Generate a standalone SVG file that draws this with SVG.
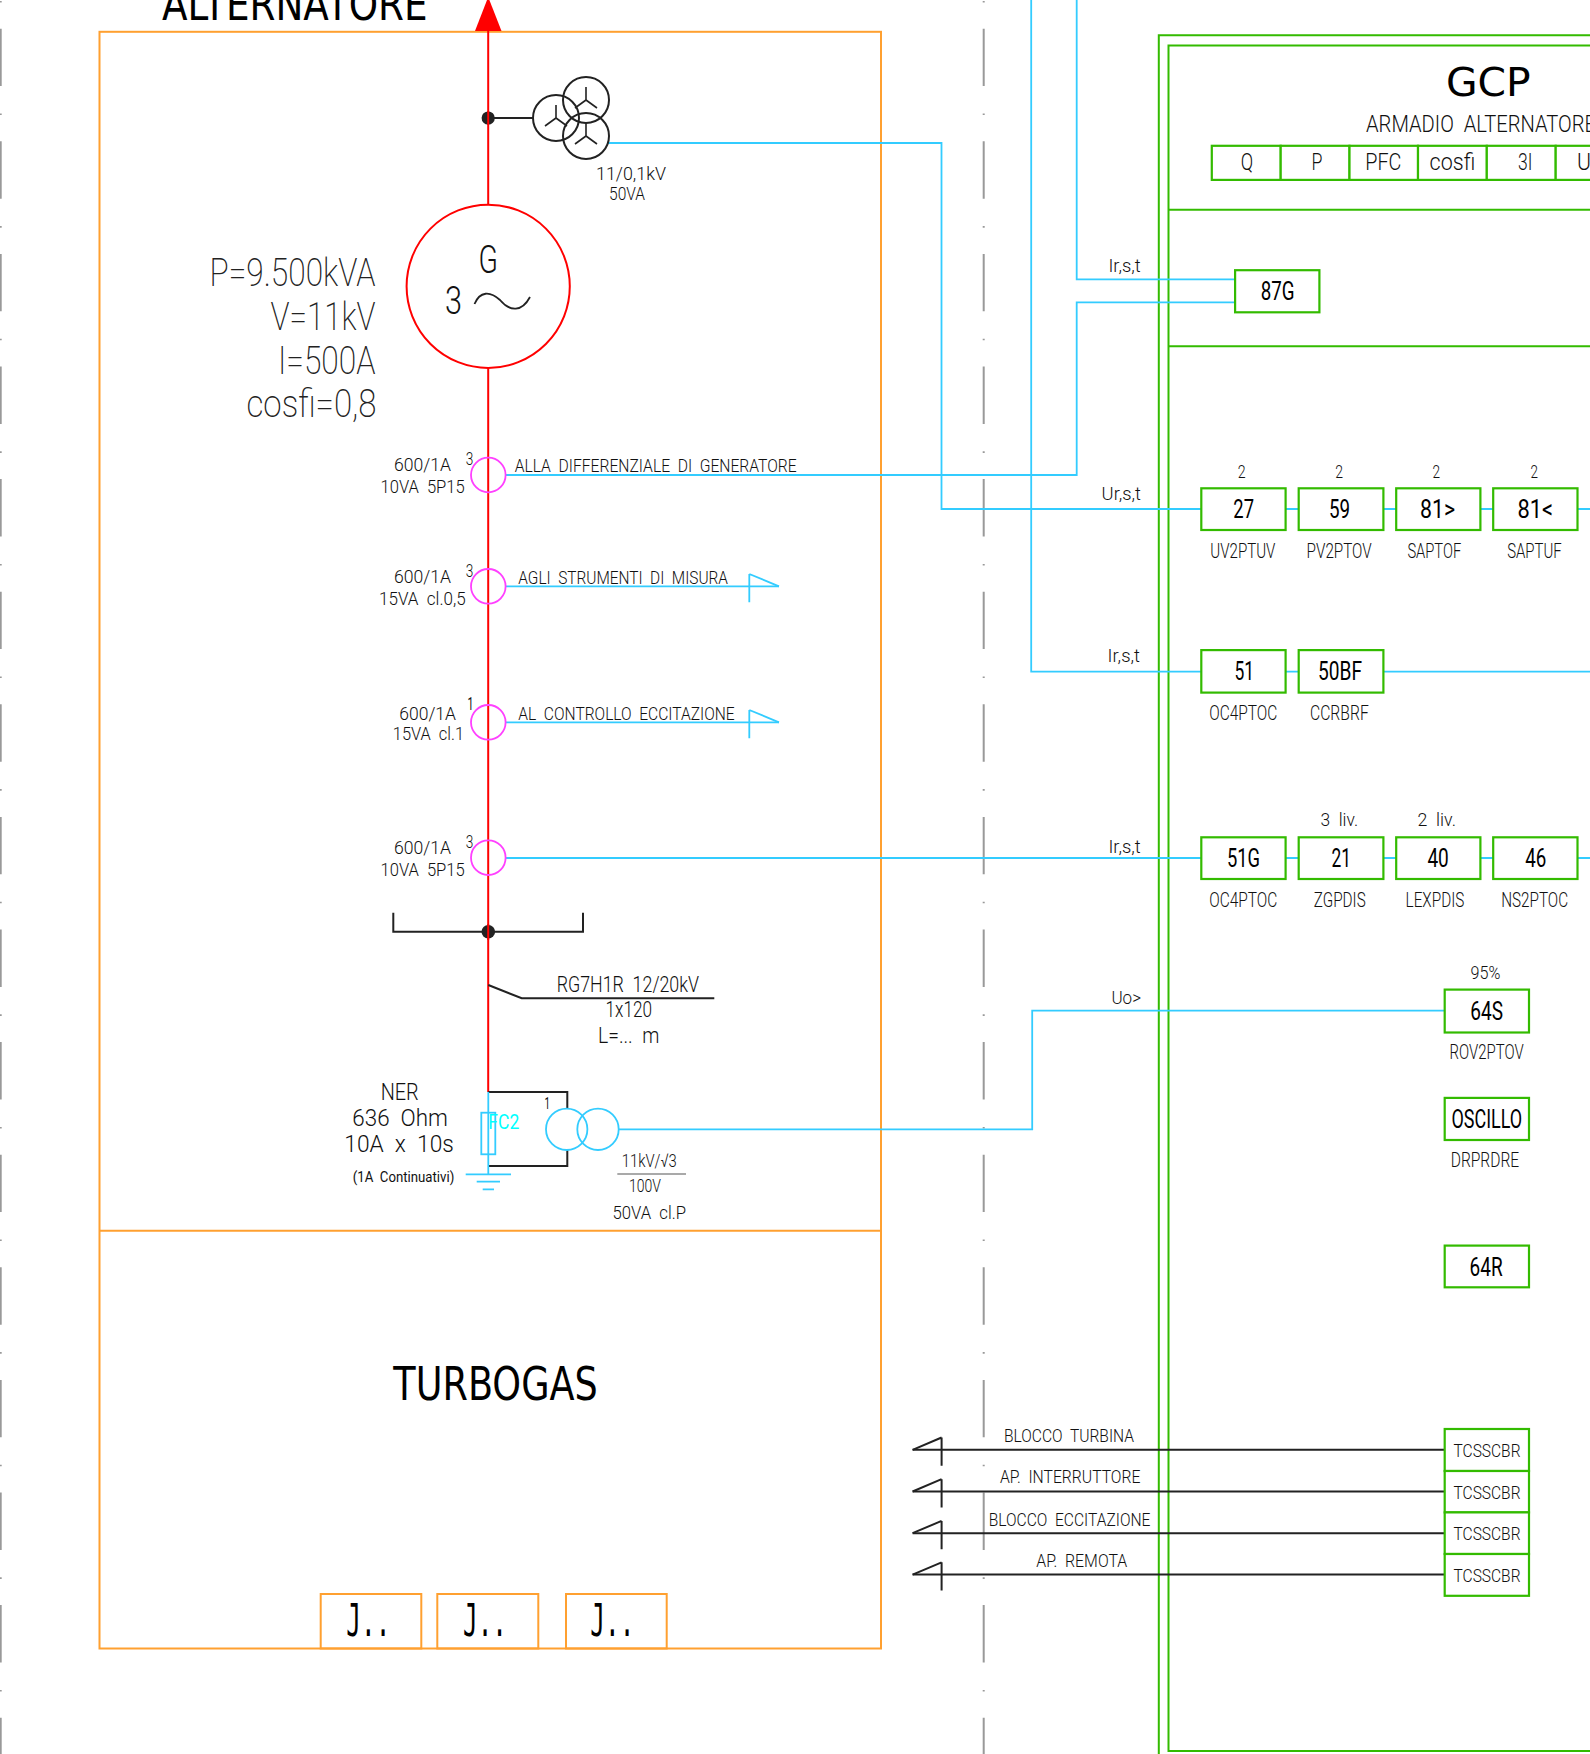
<svg xmlns="http://www.w3.org/2000/svg" width="1590" height="1754" viewBox="0 0 1590 1754">
<defs>
<style>
text{font-family:"Roboto","Liberation Sans",sans-serif;font-weight:300;fill:#111;white-space:pre}
.s{font-size:19px}.m{font-size:24px}.n{font-size:26px;font-weight:400;fill:#000}.l{font-size:38px;font-weight:200;fill:#222}
.d{font-family:"DejaVu Sans",sans-serif;font-weight:400;fill:#000}
.mono{font-family:"DejaVu Sans Mono",monospace;font-weight:400;font-size:45px;fill:#000}
.o{fill:none;stroke:#ffa030;stroke-width:2}
.g{fill:#fff;stroke:#33bb00;stroke-width:2.2}
.gl{fill:none;stroke:#33bb00;stroke-width:2}
.c{fill:none;stroke:#33ccff;stroke-width:1.8}
.k{fill:none;stroke:#222;stroke-width:2}
.r{fill:none;stroke:#ff0000;stroke-width:2}
.p{fill:none;stroke:#ff40ff;stroke-width:1.8}
.ax{fill:none;stroke:#999;stroke-dasharray:57.4 27.4 1.6 26.2}
</style>
<g id="ydelta"><path class="k" d="M0 0V-13M0 0L-11 8M0 0L11 8" style="stroke-width:1.6"/></g>
<path id="flagR" class="c" d="M0 -12.3V16M0 -12.3L29.7 0"/>
<path id="flagL" class="k" d="M29 -12.3V16M29 -12.3L0 0"/>
</defs>
<rect width="1590" height="1754" fill="#fff"/>

<g id="axes">
<line class="ax" x1="0.4" y1="-83.9" x2="0.4" y2="1754" style="stroke-width:2.6"/>
<line class="ax" x1="983.7" y1="-83.9" x2="983.7" y2="1754" style="stroke-width:2"/>
</g>

<g id="frame-alternatore">
<rect class="o" x="99.5" y="31.8" width="781.5" height="1616.7"/>
<line class="o" x1="99.5" y1="1230.7" x2="881" y2="1230.7"/>
<text class="d" x="162" y="20" font-size="45" textLength="265.5" lengthAdjust="spacingAndGlyphs">ALTERNATORE</text>
<text class="d" x="393.3" y="1400" font-size="45.7" textLength="204.5" lengthAdjust="spacingAndGlyphs">TURBOGAS</text>
</g>

<g id="terminals">
<rect class="o" x="320.7" y="1594" width="100.6" height="54.5"/>
<rect class="o" x="437.3" y="1594" width="101" height="54.5"/>
<rect class="o" x="566" y="1594" width="100.7" height="54.5"/>
<text class="mono" x="346.3" y="1636" textLength="44" lengthAdjust="spacingAndGlyphs">J..</text>
<text class="mono" x="463" y="1636" textLength="44" lengthAdjust="spacingAndGlyphs">J..</text>
<text class="mono" x="590.3" y="1636" textLength="44" lengthAdjust="spacingAndGlyphs">J..</text>
</g>

<g id="frame-gcp">
<path class="gl" d="M1158.8 1754V35.2H1590"/>
<path class="gl" d="M1590 45.5H1168.5V1751H1590"/>
<line class="gl" x1="1168.5" y1="209.7" x2="1590" y2="209.7"/>
<line class="gl" x1="1168.5" y1="346.3" x2="1590" y2="346.3"/>
<text class="d" x="1446" y="95.7" font-size="39.7" textLength="84.7" lengthAdjust="spacingAndGlyphs">GCP</text>
<text class="m" x="1366" y="132" textLength="230" lengthAdjust="spacingAndGlyphs">ARMADIO  ALTERNATORE</text>
</g>

<g id="connectors">
<path class="c" d="M607 143H941.5V509H1201.3"/>
<path class="c" d="M1076.7 0V279.4H1235.1"/>
<path class="c" d="M505.7 475H1076.7V302.3H1235.1"/>
<path class="c" d="M1031.2 0V671.6H1201.3"/>
<path class="c" d="M505.7 858H1201.3"/>
<path class="c" d="M619 1129.3H1032.2V1010.6H1444.7"/>
<path class="c" d="M505.7 586.3H779"/>
<path class="c" d="M505.7 722.3H779"/>
<use href="#flagR" x="749.3" y="586.3"/>
<use href="#flagR" x="749.3" y="722.3"/>
<path class="c" d="M1285.6 509H1298.7M1383.4 509H1396.2M1480.4 509H1493.2M1577.5 509H1590"/>
<path class="c" d="M1285.6 671.6H1298.7M1383.4 671.6H1590"/>
<path class="c" d="M1285.6 858H1298.7M1383.4 858H1396.2M1480.4 858H1493.2M1577.5 858H1590"/>
<path class="k" d="M912.6 1449.8H1444.7M912.6 1491.5H1444.7M912.6 1533.2H1444.7M912.6 1574.6H1444.7"/>
<use href="#flagL" x="912.6" y="1449.8"/>
<use href="#flagL" x="912.6" y="1491.5"/>
<use href="#flagL" x="912.6" y="1533.2"/>
<use href="#flagL" x="912.6" y="1574.6"/>
<path class="r" d="M488.2 31V1092"/>
<path d="M488.2 -3L475 31H501.5Z" fill="#ff0000"/>
<text class="s" x="1108.4" y="272" style="font-size:18px" textLength="32.3" lengthAdjust="spacingAndGlyphs">Ir,s,t</text>
<text class="s" x="1101.6" y="500" textLength="39.4" lengthAdjust="spacingAndGlyphs">Ur,s,t</text>
<text class="s" x="1107.6" y="662.4" style="font-size:18px" textLength="32.4" lengthAdjust="spacingAndGlyphs">Ir,s,t</text>
<text class="s" x="1108.4" y="852.6" style="font-size:18px" textLength="32.3" lengthAdjust="spacingAndGlyphs">Ir,s,t</text>
<text class="s" x="1111.4" y="1004" textLength="29.6" lengthAdjust="spacingAndGlyphs">Uo&gt;</text>
<text class="s" x="514.7" y="472.2" textLength="282" lengthAdjust="spacingAndGlyphs">ALLA  DIFFERENZIALE  DI  GENERATORE</text>
<text class="s" x="518.3" y="583.5" textLength="209.7" lengthAdjust="spacingAndGlyphs">AGLI  STRUMENTI  DI  MISURA</text>
<text class="s" x="518.3" y="719.5" textLength="216.4" lengthAdjust="spacingAndGlyphs">AL  CONTROLLO  ECCITAZIONE</text>
<text class="s" x="1004" y="1442.4" style="font-size:18px" textLength="130" lengthAdjust="spacingAndGlyphs">BLOCCO  TURBINA</text>
<text class="s" x="1000" y="1483" style="font-size:18px" textLength="140.4" lengthAdjust="spacingAndGlyphs">AP.  INTERRUTTORE</text>
<text class="s" x="988.7" y="1526" style="font-size:18px" textLength="161.7" lengthAdjust="spacingAndGlyphs">BLOCCO  ECCITAZIONE</text>
<text class="s" x="1036.2" y="1567" style="font-size:18px" textLength="91.1" lengthAdjust="spacingAndGlyphs">AP.  REMOTA</text>
</g>

<g id="vt-star">
<path class="k" d="M488 118H533"/>
<circle cx="488.2" cy="118" r="6.6" fill="#222"/>
<line class="r" x1="488.2" y1="111" x2="488.2" y2="125"/>
<circle class="k" cx="556" cy="118" r="23"/>
<circle class="k" cx="586" cy="100" r="23"/>
<circle class="k" cx="586" cy="136" r="23"/>
<use href="#ydelta" x="556" y="118"/>
<use href="#ydelta" x="586" y="100"/>
<use href="#ydelta" x="586" y="136"/>
<text class="s" x="596" y="179.5" textLength="70" lengthAdjust="spacingAndGlyphs">11/0,1kV</text>
<text class="s" x="609" y="200" textLength="36" lengthAdjust="spacingAndGlyphs">50VA</text>
</g>

<g id="generator">
<circle cx="488.2" cy="286.3" r="81.6" fill="#fff" stroke="#ff0000" stroke-width="2"/>
<text x="478.6" y="272.5" font-size="38" textLength="19.4" lengthAdjust="spacingAndGlyphs">G</text>
<text x="445" y="313.8" font-size="38" textLength="17" lengthAdjust="spacingAndGlyphs">3</text>
<path class="k" d="M474.5 304C480 291 490 291 500 300C510 312 522 312 530 297" style="stroke-width:1.8"/>
<text class="l" x="209.5" y="286" textLength="166" lengthAdjust="spacingAndGlyphs">P=9.500kVA</text>
<text class="l" x="270.5" y="330" textLength="105" lengthAdjust="spacingAndGlyphs">V=11kV</text>
<text class="l" x="278" y="374" textLength="97.5" lengthAdjust="spacingAndGlyphs">I=500A</text>
<text class="l" x="246.5" y="417.4" textLength="130" lengthAdjust="spacingAndGlyphs">cosfi=0,8</text>
</g>

<g id="ct1">
<circle class="p" cx="488.3" cy="475" r="17.3"/>
<text class="s" x="465.7" y="465" textLength="7.6" lengthAdjust="spacingAndGlyphs">3</text>
<text class="s" x="394" y="471.2" textLength="57" lengthAdjust="spacingAndGlyphs">600/1A</text>
<text class="s" x="380.5" y="493.3" textLength="84.2" lengthAdjust="spacingAndGlyphs">10VA  5P15</text>
</g>
<g id="ct2">
<circle class="p" cx="488.3" cy="586.3" r="17.3"/>
<text class="s" x="465.7" y="576.7" textLength="7.6" lengthAdjust="spacingAndGlyphs">3</text>
<text class="s" x="394" y="582.8" textLength="57" lengthAdjust="spacingAndGlyphs">600/1A</text>
<text class="s" x="379" y="604.5" textLength="86.7" lengthAdjust="spacingAndGlyphs">15VA  cl.0,5</text>
</g>
<g id="ct3">
<circle class="p" cx="488.3" cy="722.3" r="17.3"/>
<text class="s" x="467.5" y="710" textLength="6" lengthAdjust="spacingAndGlyphs" style="font-weight:400">1</text>
<text class="s" x="399.3" y="719.5" textLength="56.7" lengthAdjust="spacingAndGlyphs">600/1A</text>
<text class="s" x="392.8" y="739.5" textLength="71.2" lengthAdjust="spacingAndGlyphs">15VA  cl.1</text>
</g>
<g id="ct4">
<circle class="p" cx="488.3" cy="857.7" r="17.3"/>
<text class="s" x="465.7" y="848.3" textLength="7.6" lengthAdjust="spacingAndGlyphs">3</text>
<text class="s" x="394" y="853.8" textLength="57" lengthAdjust="spacingAndGlyphs">600/1A</text>
<text class="s" x="380.5" y="876" textLength="84.2" lengthAdjust="spacingAndGlyphs">10VA  5P15</text>
</g>

<g id="cable">
<path class="k" d="M393.3 912.7V931.7H583V912.7"/>
<circle cx="488.3" cy="931.7" r="6.8" fill="#222"/>
<line class="r" x1="488.2" y1="924" x2="488.2" y2="940"/>
<path class="k" d="M488.3 985L521.7 998.3H714.3"/>
<text class="s" x="556.7" y="992.3" style="font-size:22px" textLength="142.3" lengthAdjust="spacingAndGlyphs">RG7H1R  12/20kV</text>
<text class="s" x="605.5" y="1017.3" style="font-size:22px" textLength="46.5" lengthAdjust="spacingAndGlyphs">1x120</text>
<text class="s" x="598" y="1042.7" style="font-size:22px" textLength="61.3" lengthAdjust="spacingAndGlyphs">L=...  m</text>
</g>

<g id="ner">
<path class="k" d="M488.3 1092H567.3V1108.3M567.3 1150V1166H488.3"/>
<path class="c" d="M488.3 1092V1174.3"/>
<rect class="c" x="481.3" y="1112.7" width="14" height="41.6"/>
<circle class="c" cx="566.7" cy="1129.3" r="20.7"/>
<circle class="c" cx="598" cy="1129.3" r="20.7"/>
<path class="c" d="M465.7 1174.3H511M476.7 1181.7H500M482.7 1189.3H494"/>
<text x="488.3" y="1129" font-size="21" textLength="31" lengthAdjust="spacingAndGlyphs" style="fill:#00ffff;font-weight:400">FC2</text>
<text class="s" x="544.5" y="1109.3" style="font-size:17px;font-weight:400" textLength="5.5" lengthAdjust="spacingAndGlyphs">1</text>
<text class="m" x="380.7" y="1099.8" textLength="38" lengthAdjust="spacingAndGlyphs">NER</text>
<text class="m" x="352.3" y="1126.2" textLength="95.5" lengthAdjust="spacingAndGlyphs">636  Ohm</text>
<text class="m" x="344.3" y="1152.2" textLength="109.5" lengthAdjust="spacingAndGlyphs">10A  x  10s</text>
<text x="352.7" y="1181.7" font-size="15.5" textLength="101.6" lengthAdjust="spacingAndGlyphs" style="font-weight:400">(1A  Continuativi)</text>
<text class="s" x="621.8" y="1167.3" textLength="55" lengthAdjust="spacingAndGlyphs">11kV/√3</text>
<line x1="617.3" y1="1174" x2="686" y2="1174" stroke="#555" stroke-width="1.2"/>
<text class="s" x="629" y="1191.7" textLength="32" lengthAdjust="spacingAndGlyphs">100V</text>
<text class="s" x="612.5" y="1219.3" textLength="73.5" lengthAdjust="spacingAndGlyphs">50VA  cl.P</text>
</g>

<g id="meters">
<rect class="g" x="1211.8" y="145.8" width="68.9" height="34.1"/>
<rect class="g" x="1280.7" y="145.8" width="68.8" height="34.1"/>
<rect class="g" x="1349.5" y="145.8" width="68.5" height="34.1"/>
<rect class="g" x="1418" y="145.8" width="68.8" height="34.1"/>
<rect class="g" x="1486.8" y="145.8" width="68.9" height="34.1"/>
<rect class="g" x="1555.7" y="145.8" width="68.9" height="34.1"/>
<text class="m" x="1240.8" y="170.3" textLength="12.4" lengthAdjust="spacingAndGlyphs">Q</text>
<text class="m" x="1311.5" y="170.3" textLength="10.9" lengthAdjust="spacingAndGlyphs">P</text>
<text class="m" x="1365.3" y="170.3" textLength="36.1" lengthAdjust="spacingAndGlyphs">PFC</text>
<text class="m" x="1429.6" y="170.3" textLength="45.6" lengthAdjust="spacingAndGlyphs">cosfi</text>
<text class="m" x="1518" y="170.3" textLength="14.4" lengthAdjust="spacingAndGlyphs">3I</text>
<text class="m" x="1577" y="170.3" textLength="14" lengthAdjust="spacingAndGlyphs">U</text>
</g>

<g id="relay-87G"><rect class="g" x="1235.1" y="270.2" width="84.3" height="42.1"/><text class="n" x="1260.7" y="299.7" textLength="33.9" lengthAdjust="spacingAndGlyphs">87G</text></g>

<g id="relay-27"><rect class="g" x="1201.3" y="488.3" width="84.3" height="41.7"/><text class="n" x="1233.3" y="517.8" textLength="20.7" lengthAdjust="spacingAndGlyphs">27</text><text class="s" x="1237.8" y="478" textLength="7.9" lengthAdjust="spacingAndGlyphs">2</text><text class="s" x="1210.3" y="557.6" style="font-size:20px" textLength="65.1" lengthAdjust="spacingAndGlyphs">UV2PTUV</text></g>
<g id="relay-59"><rect class="g" x="1298.7" y="488.3" width="84.7" height="41.7"/><text class="n" x="1329" y="517.8" textLength="21.1" lengthAdjust="spacingAndGlyphs">59</text><text class="s" x="1335.2" y="478" textLength="7.8" lengthAdjust="spacingAndGlyphs">2</text><text class="s" x="1306.6" y="557.6" style="font-size:20px" textLength="65.1" lengthAdjust="spacingAndGlyphs">PV2PTOV</text></g>
<g id="relay-81H"><rect class="g" x="1396.2" y="488.3" width="84.2" height="41.7"/><text class="n" x="1420" y="517.8" textLength="35" lengthAdjust="spacingAndGlyphs">81&gt;</text><text class="s" x="1432.6" y="478" textLength="7.6" lengthAdjust="spacingAndGlyphs">2</text><text class="s" x="1407.4" y="557.6" style="font-size:20px" textLength="53.8" lengthAdjust="spacingAndGlyphs">SAPTOF</text></g>
<g id="relay-81L"><rect class="g" x="1493.2" y="488.3" width="84.3" height="41.7"/><text class="n" x="1517.4" y="517.8" textLength="35.6" lengthAdjust="spacingAndGlyphs">81&lt;</text><text class="s" x="1530.5" y="478" textLength="7.5" lengthAdjust="spacingAndGlyphs">2</text><text class="s" x="1507.2" y="557.6" style="font-size:20px" textLength="54.5" lengthAdjust="spacingAndGlyphs">SAPTUF</text></g>

<g id="relay-51"><rect class="g" x="1201.3" y="650.1" width="84.3" height="42.5"/><text class="n" x="1234.4" y="680.4" textLength="19.6" lengthAdjust="spacingAndGlyphs">51</text><text class="s" x="1209.2" y="720" style="font-size:20px" textLength="68.1" lengthAdjust="spacingAndGlyphs">OC4PTOC</text></g>
<g id="relay-50BF"><rect class="g" x="1298.7" y="650.1" width="84.7" height="42.5"/><text class="n" x="1318" y="680.4" textLength="44" lengthAdjust="spacingAndGlyphs">50BF</text><text class="s" x="1310" y="720" style="font-size:20px" textLength="58.7" lengthAdjust="spacingAndGlyphs">CCRBRF</text></g>

<g id="relay-51G"><rect class="g" x="1201.3" y="837.3" width="84.3" height="41.7"/><text class="n" x="1226.9" y="867" textLength="33.1" lengthAdjust="spacingAndGlyphs">51G</text><text class="s" x="1209.2" y="907" style="font-size:20px" textLength="68.1" lengthAdjust="spacingAndGlyphs">OC4PTOC</text></g>
<g id="relay-21"><rect class="g" x="1298.7" y="837.3" width="84.7" height="41.7"/><text class="n" x="1331.5" y="867" textLength="19.5" lengthAdjust="spacingAndGlyphs">21</text><text class="s" x="1320.5" y="826" textLength="37.7" lengthAdjust="spacingAndGlyphs">3  liv.</text><text class="s" x="1313.8" y="907" style="font-size:20px" textLength="51.9" lengthAdjust="spacingAndGlyphs">ZGPDIS</text></g>
<g id="relay-40"><rect class="g" x="1396.2" y="837.3" width="84.2" height="41.7"/><text class="n" x="1427.4" y="867" textLength="21.4" lengthAdjust="spacingAndGlyphs">40</text><text class="s" x="1417.6" y="826" textLength="38.4" lengthAdjust="spacingAndGlyphs">2  liv.</text><text class="s" x="1405.6" y="907" style="font-size:20px" textLength="58.7" lengthAdjust="spacingAndGlyphs">LEXPDIS</text></g>
<g id="relay-46"><rect class="g" x="1493.2" y="837.3" width="84.3" height="41.7"/><text class="n" x="1525.2" y="867" textLength="21.1" lengthAdjust="spacingAndGlyphs">46</text><text class="s" x="1501.2" y="907" style="font-size:20px" textLength="66.9" lengthAdjust="spacingAndGlyphs">NS2PTOC</text></g>

<g id="relay-64S"><rect class="g" x="1444.7" y="989.6" width="84.3" height="42.9"/><text class="n" x="1470.3" y="1019.8" textLength="32.7" lengthAdjust="spacingAndGlyphs">64S</text><text class="s" x="1470.6" y="978.9" textLength="29.8" lengthAdjust="spacingAndGlyphs">95%</text><text class="s" x="1449.6" y="1059.2" style="font-size:20px" textLength="74.1" lengthAdjust="spacingAndGlyphs">ROV2PTOV</text></g>
<g id="relay-oscillo"><rect class="g" x="1444.7" y="1097.9" width="84.3" height="42.1"/><text class="n" x="1451.5" y="1128" textLength="70.7" lengthAdjust="spacingAndGlyphs">OSCILLO</text><text class="s" x="1450.7" y="1167.2" style="font-size:20px" textLength="68.5" lengthAdjust="spacingAndGlyphs">DRPRDRE</text></g>
<g id="relay-64R"><rect class="g" x="1444.7" y="1245.6" width="84.3" height="41.7"/><text class="n" x="1469.6" y="1275.5" textLength="33" lengthAdjust="spacingAndGlyphs">64R</text></g>

<g id="trip-1"><rect class="g" x="1444.7" y="1429" width="84.3" height="42"/><text class="s" x="1453.5" y="1457.2" textLength="67" lengthAdjust="spacingAndGlyphs">TCSSCBR</text></g>
<g id="trip-2"><rect class="g" x="1444.7" y="1471" width="84.3" height="41.4"/><text class="s" x="1453.5" y="1498.6" textLength="67" lengthAdjust="spacingAndGlyphs">TCSSCBR</text></g>
<g id="trip-3"><rect class="g" x="1444.7" y="1512.4" width="84.3" height="41.6"/><text class="s" x="1453.5" y="1540.3" textLength="67" lengthAdjust="spacingAndGlyphs">TCSSCBR</text></g>
<g id="trip-4"><rect class="g" x="1444.7" y="1554" width="84.3" height="41.8"/><text class="s" x="1453.5" y="1582" textLength="67" lengthAdjust="spacingAndGlyphs">TCSSCBR</text></g>
</svg>
